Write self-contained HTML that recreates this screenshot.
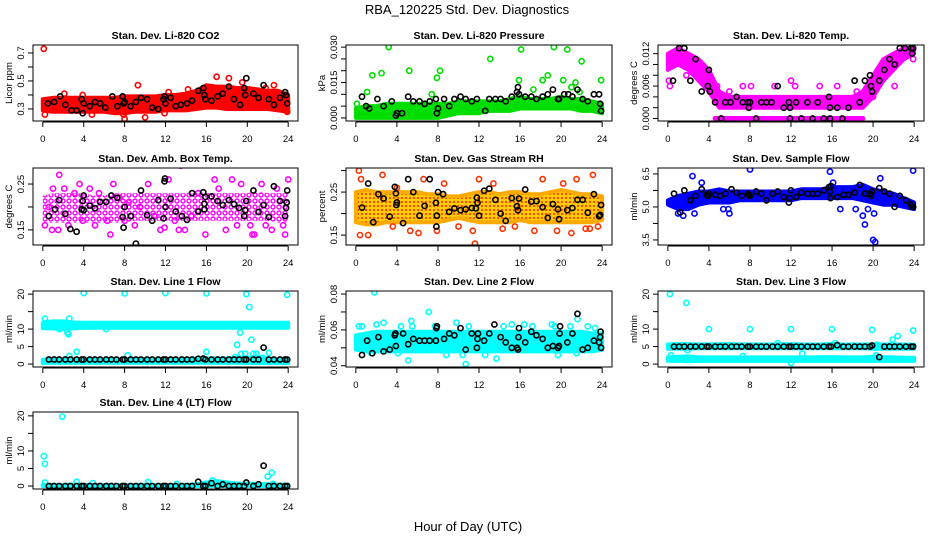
<!DOCTYPE html>
<html><head><meta charset="utf-8"><title>RBA_120225 Std. Dev. Diagnostics</title>
<style>
html,body{margin:0;padding:0;background:#fff;}
svg{display:block;font-family:"Liberation Sans",Arial,sans-serif;}
</style></head>
<body>
<svg id="chart" width="936" height="540" viewBox="0 0 936 540">
<defs>
<pattern id="pat-amb" width="6" height="6" patternUnits="userSpaceOnUse"><circle cx="3" cy="3" r="2" fill="none" stroke="#ff00ff" stroke-width="1.4"/></pattern>
<pattern id="pat-rh" width="4" height="4" patternUnits="userSpaceOnUse"><rect width="4" height="4" fill="#ffcc00"/><circle cx="2" cy="2" r="1" fill="#ff2200"/></pattern>
</defs>
<text x="467" y="14" font-size="13" text-anchor="middle">RBA_120225  Std. Dev. Diagnostics</text>
<text x="468" y="531" font-size="13" text-anchor="middle">Hour of Day (UTC)</text>
</svg>
<script>
// ---- shared data ----
const bandHours = [0,1,2,3,4,5,6,7,8,9,10,11,12,13,14,15,16,17,18,19,20,21,22,23,24];
const xTicks = [0,4,8,12,16,20,24];
const blkHours = [0.6,1.1,1.6,2.2,2.7,3.3,3.8,4.0,4.6,5.1,5.6,6.2,6.7,7.2,7.8,8.0,8.6,9.1,9.6,10.2,10.7,11.3,11.8,12.0,12.5,13.0,13.6,14.1,14.6,15.2,15.7,15.9,16.5,17.1,17.6,18.2,18.7,19.2,19.7,19.9,20.6,21.1,21.6,22.1,22.6,23.2,23.7,23.9];

// ---- P1 CO2 ----
const co2Lo = [0.29,0.28,0.28,0.28,0.28,0.28,0.28,0.27,0.27,0.28,0.28,0.28,0.29,0.29,0.29,0.30,0.31,0.31,0.30,0.30,0.30,0.30,0.30,0.29,0.28];
const co2Hi = [0.37,0.38,0.38,0.38,0.38,0.38,0.38,0.38,0.39,0.39,0.39,0.39,0.40,0.40,0.41,0.43,0.47,0.46,0.46,0.45,0.45,0.44,0.43,0.43,0.40];
const co2OutX = [0.1,0.2,2.1,3.9,8.0,9.3,10.0,12.3,15.8,17,18.2,19.5,21.8,22.6,23.9,4.8,7.9,14.2,20,11.9];
const co2OutY = [0.73,0.26,0.41,0.40,0.23,0.47,0.24,0.42,0.32,0.53,0.52,0.49,0.45,0.47,0.28,0.26,0.26,0.44,0.42,0.27];
const co2BlkX = [0.5,1.1,1.7,2.2,2.8,3.3,3.8,3.9,4.0,4.6,5.1,5.6,6.1,6.8,7.3,7.8,7.9,8.0,8.6,9.1,9.6,10.2,10.7,11.3,11.8,11.9,12,12.5,13,13.5,14.1,14.6,15.2,15.7,15.8,15.9,16.5,17.1,17.6,18.2,18.7,19.3,19.7,19.8,19.9,20.6,21.1,21.6,22.1,22.6,23.2,23.7,23.8,23.9];
const co2BlkY = [0.34,0.35,0.39,0.33,0.29,0.29,0.37,0.27,0.34,0.32,0.35,0.34,0.31,0.39,0.32,0.39,0.34,0.35,0.32,0.35,0.38,0.37,0.31,0.30,0.37,0.39,0.34,0.38,0.32,0.33,0.34,0.36,0.43,0.45,0.40,0.37,0.36,0.39,0.41,0.46,0.37,0.33,0.45,0.40,0.52,0.41,0.38,0.47,0.37,0.33,0.38,0.42,0.40,0.34];

// ---- P2 Pressure ----
const prsLo = [0,0,0,0,0,0,0,0,0,0.001,0.002,0.002,0.002,0.003,0.003,0.003,0.004,0.004,0.004,0.004,0.004,0.004,0.003,0.003,0.002];
const prsHi = [0.004,0.005,0.005,0.006,0.006,0.006,0.006,0.006,0.006,0.006,0.007,0.007,0.007,0.007,0.007,0.008,0.009,0.008,0.008,0.008,0.009,0.008,0.008,0.007,0.006];
const prsOutX = [0.1,1.1,1.6,2.5,3.2,5.2,7.4,7.9,8.2,13.1,15.9,16.1,18.2,18.7,19.3,20.2,20.6,21,21.4,22,23.9,21.8,17.3];
const prsOutY = [0.006,0.011,0.018,0.019,0.030,0.020,0.010,0.017,0.020,0.025,0.016,0.029,0.016,0.018,0.030,0.016,0.029,0.013,0.015,0.024,0.016,0.011,0.012];
const prsBlkX = [0.6,1.0,1.3,2.1,2.7,3.5,3.9,4.0,4.5,5.1,5.6,6.2,6.7,7.2,7.8,7.9,8.0,8.6,9.1,9.6,10.2,10.7,11.3,11.8,12.6,13,13.6,14.1,14.6,15.2,15.7,15.8,15.9,16.5,17.1,17.6,18.2,18.7,19.2,19.7,19.8,20.3,20.7,21.1,21.6,22.1,22.6,23.2,23.7,23.8,23.9];
const prsBlkY = [0.009,0.005,0.004,0.008,0.005,0.007,0.001,0.002,0.002,0.009,0.007,0.007,0.006,0.007,0.008,0.002,0.004,0.008,0.005,0.008,0.009,0.008,0.007,0.008,0.003,0.008,0.008,0.008,0.007,0.009,0.011,0.013,0.010,0.009,0.009,0.008,0.009,0.010,0.012,0.008,0.008,0.010,0.010,0.009,0.012,0.008,0.007,0.010,0.010,0.006,0.003];

// ---- P3 Temp ----
const tmpLo = [0.009,0.010,0.009,0.007,0.005,0.002,0.002,0.002,0.002,0.002,0.002,0.002,0.002,0.002,0.002,0.002,0.002,0.002,0.002,0.002,0.004,0.007,0.009,0.011,0.012];
const tmpHi = [0.012,0.013,0.012,0.011,0.009,0.005,0.004,0.004,0.004,0.004,0.004,0.004,0.004,0.004,0.004,0.004,0.004,0.004,0.004,0.005,0.008,0.011,0.012,0.013,0.013];
const tmpZeroSpan = [4.6, 19.0];
const tmpOutX = [0.1,0.2,1.8,3,4,4.8,6,7.3,8.1,10.4,12.4,14.8,16.5,18.4,22.1,23.9,20,12];
const tmpOutY = [0.007,0.006,0.008,0.008,0.008,0.006,0.005,0.006,0.006,0.006,0.006,0.006,0.006,0.005,0.006,0.011,0.004,0.007];
const tmpBlkX = [0.5,1.1,1.6,2.2,2.7,3.3,3.9,4.0,4.1,4.6,5.2,5.6,6.1,6.7,7.3,7.8,7.9,8.0,8.6,9.1,9.6,10.1,10.7,11.3,11.8,11.9,11.9,12.5,13,13.6,14.1,14.6,15.2,15.7,15.8,15.8,16.5,17.0,17.6,18.2,18.7,19.2,19.7,19.8,19.9,20.6,21.1,21.6,22.1,22.6,23.1,23.7,23.8,23.9];
const tmpBlkY = [0.007,0.013,0.013,0.007,0.011,0.005,0.006,0.009,0.005,0.003,0,0.003,0.003,0.004,0.003,0.003,0.002,0.003,0,0.003,0.003,0.003,0.006,0.002,0.003,0.002,0,0.003,0,0.003,0,0.003,0,0.004,0.002,0,0.002,0,0.002,0.007,0.003,0.007,0.008,0.006,0.005,0.007,0.009,0.011,0.010,0.013,0.013,0.013,0.012,0.013];

// ---- P4 Amb Box Temp ----
const ambLo = [0.165,0.165,0.165,0.165,0.165,0.165,0.165,0.165,0.165,0.17,0.17,0.17,0.17,0.17,0.17,0.17,0.17,0.17,0.17,0.17,0.17,0.17,0.17,0.165,0.165];
const ambHi = [0.225,0.23,0.23,0.23,0.23,0.225,0.225,0.23,0.23,0.23,0.23,0.23,0.23,0.23,0.23,0.235,0.23,0.23,0.23,0.23,0.23,0.235,0.23,0.23,0.23];
const ambOutX = [0.2,0.6,0.9,1.0,1.5,1.6,2.1,2.5,3.1,3.6,3.9,4.6,5.1,5.5,6.3,6.6,6.9,7.5,8.0,8.4,9.0,9.5,10.3,10.9,11.5,12.3,12.9,13.3,13.5,13.9,14.5,15.2,15.9,16.8,17.2,17.9,18.5,19.0,19.4,20.3,20.7,21.4,21.8,22.4,22.9,23.5,23.7,24.0,11.9,20.5];
const ambOutY = [0.16,0.20,0.15,0.24,0.15,0.27,0.24,0.16,0.23,0.25,0.17,0.24,0.16,0.23,0.17,0.14,0.25,0.22,0.17,0.21,0.16,0.20,0.25,0.18,0.15,0.26,0.17,0.15,0.29,0.15,0.18,0.23,0.14,0.26,0.24,0.15,0.26,0.16,0.25,0.16,0.14,0.25,0.16,0.15,0.24,0.16,0.14,0.26,0.155,0.14];
const ambBlkX = [0.6,1.2,1.6,2.2,2.7,3.3,3.8,3.9,4.0,4.0,4.6,5.1,5.6,6.2,6.7,7.3,7.8,7.9,8.0,8.6,9.1,9.6,10.2,10.7,11.3,11.8,11.9,11.95,12,12.5,13,13.6,14.1,14.6,15.2,15.7,15.8,15.8,15.9,16.5,17.1,17.6,18.2,18.7,19.2,19.7,19.8,19.9,20.6,21.1,21.6,22.1,22.6,23.2,23.7,23.8,23.85,23.9];
const ambBlkY = [0.18,0.195,0.215,0.185,0.152,0.146,0.195,0.213,0.225,0.193,0.203,0.197,0.211,0.211,0.225,0.22,0.178,0.155,0.2,0.18,0.12,0.236,0.182,0.17,0.215,0.175,0.256,0.262,0.2,0.218,0.19,0.18,0.172,0.23,0.19,0.232,0.195,0.207,0.222,0.223,0.213,0.204,0.215,0.206,0.198,0.18,0.193,0.213,0.236,0.189,0.204,0.178,0.245,0.213,0.18,0.198,0.21,0.236];

// ---- P5 Gas Stream RH ----
const rhLo = [0.18,0.175,0.175,0.18,0.18,0.18,0.18,0.18,0.18,0.185,0.19,0.185,0.18,0.18,0.18,0.18,0.185,0.18,0.18,0.18,0.18,0.18,0.18,0.18,0.185];
const rhHi = [0.25,0.255,0.25,0.25,0.25,0.25,0.25,0.245,0.245,0.24,0.24,0.245,0.25,0.25,0.245,0.25,0.25,0.245,0.245,0.25,0.255,0.25,0.245,0.245,0.24];
const rhOutX = [0.3,0.5,0.4,1.2,2.6,3.6,4.0,5.3,6.1,6.6,7.9,8.6,10.0,11.4,11.6,12.0,13.4,14.3,15.5,17.4,18.2,19.6,20.2,21.0,21.5,22.4,22.8,23.1,23.6];
const rhOutY = [0.30,0.28,0.15,0.15,0.29,0.17,0.26,0.16,0.155,0.28,0.16,0.27,0.17,0.16,0.13,0.28,0.27,0.165,0.17,0.16,0.28,0.16,0.27,0.155,0.28,0.165,0.165,0.29,0.17];
const rhBlkX = [0.6,1.2,1.7,2.2,2.7,3.3,3.8,3.9,3.95,4.0,4.6,5.1,5.6,6.2,6.7,7.2,7.8,7.85,7.9,8.0,8.5,9.1,9.6,10.2,10.7,11.3,11.7,11.8,11.85,12,12.5,13,13.6,14.1,14.6,15.2,15.7,15.8,15.9,16.5,17.1,17.6,18.2,18.7,19.2,19.7,19.8,20.6,21.1,21.6,22.1,22.6,23.2,23.7,23.8,23.9];
const rhBlkY = [0.214,0.27,0.18,0.245,0.235,0.193,0.262,0.247,0.22,0.226,0.178,0.28,0.25,0.195,0.218,0.28,0.225,0.17,0.195,0.25,0.245,0.204,0.212,0.208,0.21,0.213,0.212,0.237,0.225,0.195,0.253,0.258,0.232,0.2,0.183,0.236,0.217,0.208,0.235,0.256,0.228,0.229,0.215,0.19,0.222,0.21,0.187,0.208,0.213,0.232,0.232,0.202,0.245,0.194,0.197,0.22];

// ---- P6 Sample Flow ----
const sfLo = [5.1,4.9,4.9,5.1,5.2,5.2,5.2,5.3,5.3,5.3,5.3,5.3,5.3,5.4,5.4,5.4,5.4,5.4,5.4,5.3,5.2,5.1,5.1,5.0,4.9];
const sfHi = [5.3,5.5,5.6,5.7,5.7,5.8,5.7,5.7,5.7,5.7,5.7,5.7,5.7,5.8,5.8,5.8,5.9,5.9,5.9,6.0,5.8,5.7,5.6,5.4,5.2];
const sfOutX = [1,1.5,2.4,2.6,3.3,5.4,5.9,6,8,15.8,16.1,16.8,18.3,19,19.2,19.5,20,20.2,20.1,20.7,23.9];
const sfOutY = [4.7,4.6,6.4,4.7,6.1,4.9,4.9,4.7,6.7,6.6,6.1,4.9,4.9,4.6,4.2,4.9,3.5,3.4,4.7,6.3,6.65];
const sfBlkX = [0.6,1.2,1.6,2.2,2.7,3.3,3.8,3.9,4.0,4.6,5.1,5.6,6.2,6.7,7.2,7.8,7.9,8,8.6,9.1,9.6,10.2,10.7,11.3,11.8,11.85,12,12.5,13,13.6,14.1,14.6,15.2,15.7,15.8,15.85,15.9,16.5,17.1,17.6,18.2,18.7,19.2,19.7,19.8,19.9,20.6,21.1,21.6,22.1,22.6,23.2,23.7,23.8,23.9];
const sfBlkY = [5.6,4.75,5.75,5.3,5.5,5.8,5.55,5.5,5.6,5.55,5.5,5.6,5.8,5.65,5.5,5.6,5.55,5.5,5.7,5.6,5.3,5.6,5.7,5.45,5.2,5.4,5.75,5.45,5.65,5.6,5.6,5.6,5.75,5.9,5.7,5.4,5.95,5.45,5.55,5.55,5.65,6.0,5.6,5.6,5.5,5.7,5.85,5.7,5.6,5.0,5.5,5.3,5.1,5.0,5.0];

// ---- P7 Line 1 Flow ----
const l1Lo = [10.3,10.2,10.0,10.2,10.4,10.4,10.4,10.4,10.4,10.4,10.4,10.4,10.4,10.4,10.4,10.4,10.4,10.4,10.4,10.4,10.4,10.4,10.4,10.4,10.4];
const l1Hi = [11.8,12.2,12.2,11.9,11.8,11.8,11.8,11.8,11.8,11.8,11.8,11.8,11.8,11.8,11.8,11.8,11.8,11.8,11.8,11.8,11.8,11.8,11.8,11.8,11.8];
const l1Lo2 = [0.3,0.4,0.4,0.4,0.4,0.4,0.4,0.4,0.4,0.4,0.4,0.4,0.4,0.4,0.4,0.4,0.4,0.4,0.4,0.4,0.3,0.3,0.3,0.3,0.3];
const l1Hi2 = [1.2,1.4,1.4,1.4,1.4,1.4,1.4,1.4,1.4,1.4,1.4,1.4,1.4,1.4,1.4,1.6,1.6,1.6,1.6,1.8,1.8,2.0,1.6,1.4,1.4];
const l1OutX = [0.2,0.3,1.6,2.4,2.5,2.6,2.6,3.3,4,6.2,8,8.3,12,16,16,18.8,19,19.3,19.4,19.9,19.8,20.2,20.4,20.6,20.9,22.1,23.9,21.5];
const l1OutY = [13,1,10,9,8.5,13,2.3,3.5,20.3,10,20.2,2.5,20.3,20.2,3.5,2,5.5,9,2.9,20,3,16.3,7,3,3,3.2,19.8,1.8];
const l1BlkY = [1.3,1.3,1.3,1.3,1.3,1.3,1.3,1.3,1.3,1.3,1.3,1.3,1.3,1.3,1.3,1.3,1.3,1.3,1.3,1.3,1.3,1.3,1.3,1.3,1.3,1.3,1.3,1.3,1.3,1.5,1.6,1.3,1.3,1.3,1.3,1.3,1.3,1.3,1.3,1.3,1.3,1.3,4.7,1.3,1.3,1.3,1.3,1.3];

// ---- P8 Line 2 Flow ----
const l2Lo = [0.049,0.048,0.048,0.048,0.048,0.048,0.048,0.048,0.048,0.048,0.048,0.048,0.048,0.048,0.048,0.048,0.048,0.048,0.048,0.048,0.048,0.048,0.048,0.048,0.049];
const l2Hi = [0.057,0.058,0.059,0.059,0.059,0.059,0.059,0.059,0.059,0.059,0.059,0.059,0.059,0.059,0.059,0.059,0.059,0.059,0.059,0.059,0.059,0.059,0.059,0.058,0.058];
const l2OutX = [0.3,0.6,1.5,1.6,1.8,2,2.7,3.6,4.1,4.4,5.1,5.4,5.5,7.1,7.7,8.4,8.8,9.8,10.4,10.7,11,12.6,13.7,14.4,15.2,16.4,17.2,19.1,19.4,19.7,20.9,21.5,21.6,22.6,23.3];
const l2OutY = [0.062,0.062,0.047,0.058,0.081,0.063,0.064,0.057,0.047,0.062,0.043,0.065,0.062,0.07,0.062,0.049,0.046,0.064,0.046,0.041,0.062,0.046,0.044,0.062,0.063,0.063,0.062,0.063,0.062,0.046,0.062,0.047,0.066,0.062,0.061];
const l2BlkX = [0.6,1.1,1.6,2.2,2.7,3.3,3.8,3.85,3.9,4.6,5.1,5.6,6.2,6.7,7.2,7.8,7.85,7.9,8.6,9.1,9.6,10.2,10.7,11.3,11.8,11.85,11.9,12.5,13,13.5,14.1,14.6,15.2,15.7,15.8,15.85,15.9,16.5,17.1,17.6,18.2,18.7,19.2,19.7,19.8,19.85,19.9,20.6,21.1,21.6,22.1,22.6,23.2,23.7,23.8,23.85,23.9];
const l2BlkY = [0.046,0.054,0.047,0.056,0.048,0.049,0.057,0.058,0.051,0.058,0.052,0.055,0.054,0.054,0.054,0.054,0.061,0.062,0.055,0.058,0.057,0.061,0.049,0.058,0.05,0.055,0.058,0.054,0.058,0.063,0.056,0.053,0.05,0.05,0.049,0.056,0.061,0.053,0.059,0.057,0.055,0.05,0.051,0.05,0.051,0.058,0.062,0.053,0.058,0.069,0.049,0.05,0.054,0.053,0.056,0.059,0.05];

// ---- P9 Line 3 Flow ----
const l3Lo = [4.4,4.4,4.4,4.5,4.5,4.5,4.5,4.5,4.5,4.5,4.5,4.5,4.5,4.5,4.5,4.5,4.5,4.5,4.5,4.5,4.4,4.4,4.4,4.4,4.4];
const l3Hi = [5.6,5.7,5.7,5.6,5.6,5.7,5.7,5.6,5.6,5.6,5.6,5.7,5.7,5.6,5.6,5.6,5.8,5.6,5.6,5.6,5.6,5.6,5.6,5.6,5.5];
const l3Lo2 = [0.9,0.9,0.8,0.9,0.9,0.9,0.9,0.9,0.9,0.9,0.9,0.9,0.9,0.9,0.9,0.9,0.9,0.9,0.9,0.9,0.9,0.9,0.9,0.9,0.9];
const l3Hi2 = [1.9,2.1,2.2,1.9,1.9,1.9,1.9,1.9,1.9,1.9,1.9,1.9,1.9,1.9,1.9,2.0,2.0,1.9,1.9,1.9,2.1,2.0,1.9,1.8,1.8];
const l3OutX = [0.2,0.3,1.8,1.9,4,7.3,8,10.7,12,12,13.1,16,16.3,19.9,20.3,20.4,21.9,22.4,23.9];
const l3OutY = [20,2.5,17.5,4,10,2.3,10,6,10,0.3,3,10,6,9.8,2.5,5.5,7,8,9.6];
const l3BlkY = [5,5,5,5,5,5,5,5,5,5,5,5,5,5,5,5,5,5,5,5,5,5,5,5,5,5,5,5,5,5,5,5,5.4,5,5,5,5,5,5,5.3,2,5,5,5,5,5,5,5];

// ---- P10 Line 4 (LT) Flow ----
const l4Lo = [0,0,0,0,0,0,0,0,0,0,0,0,0,0,0,0,0,0,0,0,0,0,0,0,0];
const l4Hi = [0.4,0.3,0.3,0.4,0.3,0.3,0.3,0.3,0.3,0.3,0.4,0.3,0.3,0.3,0.3,0.5,1.0,1.4,1.0,0.7,0.7,0.6,0.5,0.4,0.4];
const l4OutX = [0.1,0.2,0.2,1.9,3.3,4.9,10.3,13.1,16.6,22,22.4,22.5];
const l4OutY = [8.5,6.3,1,19.8,1.2,0.8,1.1,0.6,1.6,2.7,3.8,0.6];
const l4BlkY = [0,0,0,0,0,0,0,0,0,0,0,0,0,0,0,0,0,0,0,0,0,0,0,0,0,0,0,0,0,1.2,0,0,0.8,0,0.5,0,0,0,0,1.0,0,0.5,5.8,0,0,0,0,0];

// ---- panel configs ----
const NS = "http://www.w3.org/2000/svg";
const svg = document.getElementById('chart');
const colX = [33, 346, 658], colW = [265, 266, 266];
const rowY = [45, 168, 291, 412], rowH = [76, 77, 76, 77];

const panels = [
 {id:'co2', title:'Stan. Dev. Li-820 CO2', ylab:'Licor ppm', c:0, r:0, ylim:[0.214,0.757], ticks:[0.3,0.4,0.5,0.6,0.7], labels:['0.3','','0.5','','0.7'], col:'#ff0000',
  bands:[[co2Lo,co2Hi]], ox:co2OutX, oy:co2OutY, bx:co2BlkX, by:co2BlkY},
 {id:'pressure', title:'Stan. Dev. Li-820 Pressure', ylab:'kPa', c:1, r:0, ylim:[-0.0013,0.0309], ticks:[0,0.005,0.01,0.015,0.02,0.025,0.03], labels:['0.000','','','0.015','','','0.030'], col:'#00dd00',
  bands:[[prsLo,prsHi]], ox:prsOutX, oy:prsOutY, bx:prsBlkX, by:prsBlkY},
 {id:'temp', title:'Stan. Dev. Li-820 Temp.', ylab:'degrees C', c:2, r:0, ylim:[-0.00046,0.0136], ticks:[0,0.002,0.004,0.006,0.008,0.01,0.012], labels:['0.000','','','0.006','','','0.012'], col:'#ff00ff',
  bands:[[tmpLo,tmpHi]], zero:tmpZeroSpan, ox:tmpOutX, oy:tmpOutY, bx:tmpBlkX, by:tmpBlkY},
 {id:'amb-box', title:'Stan. Dev. Amb. Box Temp.', ylab:'degrees C', c:0, r:1, ylim:[0.117,0.285], ticks:[0.15,0.2,0.25], labels:['0.15','','0.25'], col:'#ff00ff', bandFill:'url(#pat-amb)', bandStroke:'none',
  bands:[[ambLo,ambHi]], ox:ambOutX, oy:ambOutY, bx:ambBlkX, by:ambBlkY},
 {id:'gas-rh', title:'Stan. Dev. Gas Stream RH', ylab:'percent', c:1, r:1, ylim:[0.127,0.306], ticks:[0.15,0.2,0.25,0.3], labels:['0.15','','0.25',''], col:'#ff9900', stroke2:'#ff3300', bandFill:'url(#pat-rh)', bandStroke:'#ffaa00',
  bands:[[rhLo,rhHi]], ox:rhOutX, oy:rhOutY, bx:rhBlkX, by:rhBlkY},
 {id:'sample-flow', title:'Stan. Dev. Sample Flow', ylab:'ml/min', c:2, r:1, ylim:[3.27,6.77], ticks:[3.5,4.25,5.0,5.75,6.5], labels:['3.5','','5.0','','6.5'], col:'#0000ff',
  bands:[[sfLo,sfHi]], ox:sfOutX, oy:sfOutY, bx:sfBlkX, by:sfBlkY},
 {id:'line1-flow', title:'Stan. Dev. Line 1 Flow', ylab:'ml/min', c:0, r:2, ylim:[-0.84,20.9], ticks:[0,5,10,15,20], labels:['0','5','10','','20'], col:'#00ffff',
  bands:[[l1Lo,l1Hi],[l1Lo2,l1Hi2]], ox:l1OutX, oy:l1OutY, bx:blkHours, by:l1BlkY},
 {id:'line2-flow', title:'Stan. Dev. Line 2 Flow', ylab:'ml/min', c:1, r:2, ylim:[0.0393,0.0817], ticks:[0.04,0.05,0.06,0.07,0.08], labels:['0.04','','0.06','','0.08'], col:'#00ffff',
  bands:[[l2Lo,l2Hi]], ox:l2OutX, oy:l2OutY, bx:l2BlkX, by:l2BlkY},
 {id:'line3-flow', title:'Stan. Dev. Line 3 Flow', ylab:'ml/min', c:2, r:2, ylim:[-0.84,20.9], ticks:[0,5,10,15,20], labels:['0','5','10','','20'], col:'#00ffff',
  bands:[[l3Lo,l3Hi],[l3Lo2,l3Hi2]], ox:l3OutX, oy:l3OutY, bx:blkHours, by:l3BlkY},
 {id:'line4-flow', title:'Stan. Dev. Line 4 (LT) Flow', ylab:'ml/min', c:0, r:3, ylim:[-0.85,21.1], ticks:[0,5,10,15,20], labels:['0','5','10','','20'], col:'#00ffff',
  bands:[[l4Lo,l4Hi]], ox:l4OutX, oy:l4OutY, bx:blkHours, by:l4BlkY}
];

function mk(tag, attrs, parent){
  const e = document.createElementNS(NS, tag);
  for (const k in attrs) e.setAttribute(k, attrs[k]);
  (parent||svg).appendChild(e);
  return e;
}

panels.forEach(p => {
  const L = colX[p.c], W = colW[p.c], T = rowY[p.r], H = rowH[p.r];
  const xs = h => L + (h + 0.96) / 25.92 * W;
  const ys = v => T + H - (v - p.ylim[0]) / (p.ylim[1] - p.ylim[0]) * H;

  const g = mk('g', {});
  
  

  const clipId = 'clip-' + p.id;
  const cp = mk('clipPath', {id: clipId}, g);
  mk('rect', {x:L, y:T, width:W, height:H}, cp);
  const plot = mk('g', {'clip-path':'url(#'+clipId+')'}, g);
  
  

  p.bands.forEach((b, bi) => {
    let d = '';
    bandHours.forEach((h, i) => { d += (i ? 'L' : 'M') + xs(h).toFixed(1) + ',' + ys(b[1][i]).toFixed(1); });
    for (let i = bandHours.length - 1; i >= 0; i--) d += 'L' + xs(bandHours[i]).toFixed(1) + ',' + ys(b[0][i]).toFixed(1);
    d += 'Z';
    const band = mk('path', {d:d, fill:p.bandFill||p.col, stroke:p.bandStroke||p.col, 'stroke-width':4, 'stroke-linejoin':'round'}, plot);
    
    
  });
  if (p.zero) {
    const z = mk('line', {x1:xs(p.zero[0]), x2:xs(p.zero[1]), y1:ys(0), y2:ys(0), stroke:p.col, 'stroke-width':5, 'stroke-linecap':'round'}, plot);
    
    
  }
  p.ox.forEach((h, i) => {
    const pt = mk('circle', {cx:xs(h).toFixed(1), cy:ys(p.oy[i]).toFixed(1), r:2.6, fill:'none', stroke:p.stroke2||p.col, 'stroke-width':1.6}, plot);
    
    
  });
  p.bx.forEach((h, i) => {
    const pt = mk('circle', {cx:xs(h).toFixed(1), cy:ys(p.by[i]).toFixed(1), r:2.6, fill:'none', stroke:'#000', 'stroke-width':1.6}, plot);
    
    
  });

  const box = mk('rect', {x:L, y:T, width:W, height:H, fill:'none', stroke:'#000', 'stroke-width':1}, g);
  
  

  const t = mk('text', {x:L + W/2, y:T - 6, 'font-size':10.5, 'font-weight':'bold', 'text-anchor':'middle'}, g);
  t.textContent = p.title;
  
  

  const xa = mk('g', {}, g);
  
  
  mk('line', {x1:xs(xTicks[0]), x2:xs(xTicks[xTicks.length-1]), y1:T+H+1, y2:T+H+1, stroke:'#000'}, xa);
  xTicks.forEach(v => {
    mk('line', {x1:xs(v), x2:xs(v), y1:T+H+1, y2:T+H+6, stroke:'#000'}, xa);
    const tl = mk('text', {x:xs(v), y:T+H+21, 'font-size':9.5, 'text-anchor':'middle'}, xa);
    tl.textContent = v;
    
    
  });

  const ya = mk('g', {}, g);
  
  
  mk('line', {x1:L, x2:L, y1:ys(p.ticks[0]), y2:ys(p.ticks[p.ticks.length-1]), stroke:'#000'}, ya);
  p.ticks.forEach((v, i) => {
    const y = ys(v);
    mk('line', {x1:L-5, x2:L, y1:y, y2:y, stroke:'#000'}, ya);
    if (p.labels[i]) {
      const tl = mk('text', {x:L-9, y:y, 'font-size':9.5, 'text-anchor':'middle', transform:'rotate(-90 '+(L-9)+' '+y+')'}, ya);
      tl.textContent = p.labels[i];
      
      
    }
  });
  const yl = mk('text', {x:L-21, y:T+H/2, 'font-size':9.5, 'text-anchor':'middle', transform:'rotate(-90 '+(L-21)+' '+(T+H/2)+')'}, g);
  yl.textContent = p.ylab;
  
  
});
</script>
</body></html>
